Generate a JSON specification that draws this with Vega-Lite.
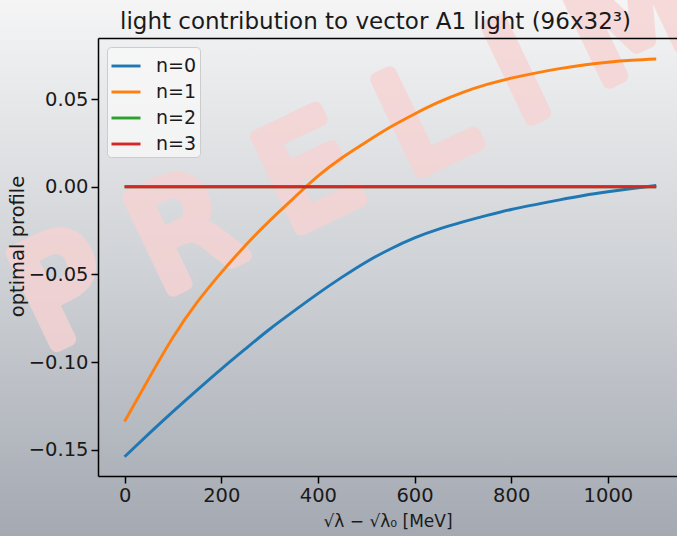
{
  "$schema": "https://vega.github.io/schema/vega-lite/v6.json",
  "width": 579,
  "height": 438,
  "autosize": {"type": "none"},
  "padding": {"left": 98, "top": 38, "right": 0, "bottom": 60},
  "background": "#d0d2d6",
  "config": {
    "view": {"stroke": null},
    "font": "DejaVu Sans",
    "axis": {
      "domainColor": "#000000",
      "domainWidth": 1.5,
      "tickColor": "#000000",
      "tickWidth": 1.5,
      "tickSize": 7,
      "labelFont": "DejaVu Sans",
      "labelFontSize": 19.5,
      "labelColor": "#1a1a1a",
      "labelPadding": 3,
      "labelFlush": false,
      "titleFont": "DejaVu Sans",
      "titleFontWeight": "normal",
      "titleColor": "#1a1a1a",
      "grid": false
    }
  },
  "resolve": {"axis": {"x": "independent", "y": "independent"}},
  "layer": [
    {
      "data": {"values": [{}]},
      "mark": {
        "type": "rect",
        "clip": false,
        "fill": {
          "gradient": "linear",
          "x1": 0, "y1": 0, "x2": 0, "y2": 1,
          "stops": [
            {"offset": 0, "color": "#f5f5f6"},
            {"offset": 0.5, "color": "#cfd2d6"},
            {"offset": 1, "color": "#a4a9b2"}
          ]
        }
      },
      "encoding": {
        "x": {
          "datum": -270,
          "type": "quantitative",
          "scale": {"domain": [-55, 1143], "nice": false, "zero": false},
          "axis": {
            "orient": "top",
            "labels": false,
            "ticks": false,
            "domain": true,
            "zindex": 1,
            "title": "light contribution to vector A1 light (96x32³)",
            "titleFontSize": 23,
            "titleBaseline": "alphabetic",
            "titlePadding": 10,
            "titleX": 277,
            "titleAlign": "center"
          }
        },
        "x2": {"datum": 1160},
        "y": {
          "datum": 0.10647,
          "type": "quantitative",
          "scale": {"domain": [-0.165, 0.0848], "nice": false, "zero": false},
          "axis": null
        },
        "y2": {"datum": -0.19922}
      }
    },
    {
      "data": {"values": [{"label": "P R E L I M I N A R Y"}]},
      "mark": {
        "type": "text",
        "clip": false,
        "font": "DejaVu Sans",
        "fontWeight": "normal",
        "fontSize": 140,
        "angle": -25.5,
        "align": "left",
        "baseline": "alphabetic",
        "color": "#f7d3d3",
        "stroke": "#f7d3d3",
        "strokeWidth": 14,
        "strokeJoin": "round",
        "opacity": 0.8
      },
      "encoding": {
        "text": {"field": "label"},
        "x": {"datum": -166, "type": "quantitative", "axis": null},
        "y": {"datum": -0.0937, "type": "quantitative", "axis": null}
      }
    },
    {
      "data": {
        "values": [
          {"n": "n=0", "x": 0, "y": -0.154},
          {"n": "n=0", "x": 50, "y": -0.141},
          {"n": "n=0", "x": 100, "y": -0.1283},
          {"n": "n=0", "x": 150, "y": -0.116},
          {"n": "n=0", "x": 200, "y": -0.104},
          {"n": "n=0", "x": 250, "y": -0.0925},
          {"n": "n=0", "x": 300, "y": -0.0813},
          {"n": "n=0", "x": 350, "y": -0.071},
          {"n": "n=0", "x": 400, "y": -0.061},
          {"n": "n=0", "x": 450, "y": -0.0516},
          {"n": "n=0", "x": 500, "y": -0.0429},
          {"n": "n=0", "x": 550, "y": -0.0355},
          {"n": "n=0", "x": 600, "y": -0.0292},
          {"n": "n=0", "x": 650, "y": -0.0242},
          {"n": "n=0", "x": 700, "y": -0.0201},
          {"n": "n=0", "x": 750, "y": -0.0164},
          {"n": "n=0", "x": 800, "y": -0.013},
          {"n": "n=0", "x": 850, "y": -0.0102},
          {"n": "n=0", "x": 900, "y": -0.0075},
          {"n": "n=0", "x": 950, "y": -0.005},
          {"n": "n=0", "x": 1000, "y": -0.0029},
          {"n": "n=0", "x": 1050, "y": -0.001},
          {"n": "n=0", "x": 1100, "y": 0.0007},
          {"n": "n=1", "x": 0, "y": -0.1339},
          {"n": "n=1", "x": 50, "y": -0.1095},
          {"n": "n=1", "x": 100, "y": -0.086},
          {"n": "n=1", "x": 150, "y": -0.066},
          {"n": "n=1", "x": 200, "y": -0.049},
          {"n": "n=1", "x": 250, "y": -0.0335},
          {"n": "n=1", "x": 300, "y": -0.0195},
          {"n": "n=1", "x": 350, "y": -0.0065},
          {"n": "n=1", "x": 400, "y": 0.006},
          {"n": "n=1", "x": 450, "y": 0.0165},
          {"n": "n=1", "x": 500, "y": 0.0255},
          {"n": "n=1", "x": 550, "y": 0.034},
          {"n": "n=1", "x": 600, "y": 0.0415},
          {"n": "n=1", "x": 650, "y": 0.0482},
          {"n": "n=1", "x": 700, "y": 0.0538},
          {"n": "n=1", "x": 750, "y": 0.0583},
          {"n": "n=1", "x": 800, "y": 0.0619},
          {"n": "n=1", "x": 850, "y": 0.0648},
          {"n": "n=1", "x": 900, "y": 0.0673},
          {"n": "n=1", "x": 950, "y": 0.0694},
          {"n": "n=1", "x": 1000, "y": 0.071},
          {"n": "n=1", "x": 1050, "y": 0.0721},
          {"n": "n=1", "x": 1100, "y": 0.0728},
          {"n": "n=2", "x": 0, "y": 0},
          {"n": "n=2", "x": 1100, "y": 0},
          {"n": "n=3", "x": 0, "y": 0},
          {"n": "n=3", "x": 1100, "y": 0}
        ]
      },
      "mark": {"type": "line", "strokeWidth": 2.9, "clip": false, "interpolate": "natural"},
      "encoding": {
        "x": {
          "field": "x",
          "type": "quantitative",
          "scale": {"domain": [-55, 1143], "nice": false, "zero": false},
          "axis": {
            "orient": "bottom",
            "zindex": 1,
            "values": [0, 200, 400, 600, 800, 1000],
            "format": "d",
            "title": "√λ − √λ₀ [MeV]",
            "titleFontSize": 17,
            "titlePadding": 9
          }
        },
        "y": {
          "field": "y",
          "type": "quantitative",
          "scale": {"domain": [-0.165, 0.0848], "nice": false, "zero": false},
          "axis": {
            "orient": "left",
            "zindex": 1,
            "values": [-0.15, -0.1, -0.05, 0, 0.05],
            "format": ".2f",
            "title": "optimal profile",
            "titleFontSize": 19.5,
            "titlePadding": 1,
            "titleY": 208
          }
        },
        "color": {
          "field": "n",
          "type": "nominal",
          "scale": {
            "domain": ["n=0", "n=1", "n=2", "n=3"],
            "range": ["#1f77b4", "#ff7f0e", "#2ca02c", "#d62728"]
          },
          "legend": {
            "title": null,
            "orient": "top-left",
            "offset": 9,
            "fillColor": "rgba(248,248,248,0.8)",
            "strokeColor": "#cccccc",
            "cornerRadius": 4,
            "padding": 3,
            "symbolType": "stroke",
            "symbolStrokeWidth": 2.9,
            "symbolSize": 841,
            "labelFont": "DejaVu Sans",
            "labelFontSize": 19,
            "labelColor": "#1a1a1a",
            "labelOffset": 14,
            "rowPadding": 0
          }
        }
      }
    }
  ]
}
